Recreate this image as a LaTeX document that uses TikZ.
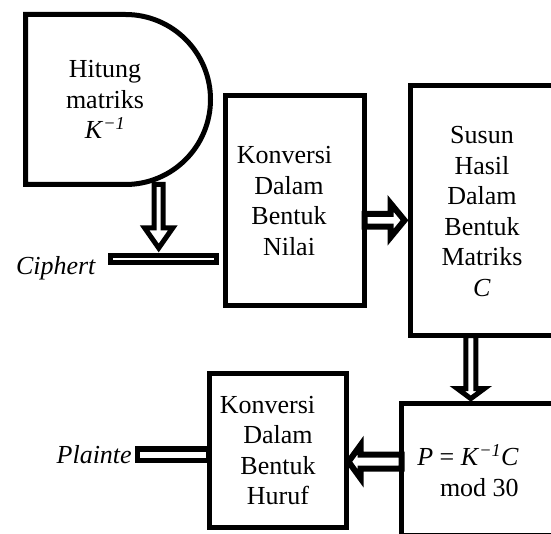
\documentclass[tikz,border=0pt]{standalone}
\usepackage{fontspec}
\setmainfont{Liberation Serif}
\usetikzlibrary{calc}
\tikzset{
  boxline/.style={draw=black, line width=5pt},
  blkarrow/.style={draw=black, fill=white, line width=5pt, line join=miter},
  txt/.style={inner sep=0pt, align=center, font=\fontsize{26}{30.5}\selectfont},
  barbox/.style={draw=black, fill=white, line width=5pt, inner sep=0pt},
}
\newcommand\blkarrowdraw[6][]{%
  \coordinate (ba-h) at ($(#3)!#6!(#2)$);
  \draw[blkarrow,#1] ($(#2)!#4!90:(#3)$) -- ($(ba-h)!#4!90:(#3)$) -- ($(ba-h)!#5!90:(#3)$) -- (#3)
    -- ($(ba-h)!#5!-90:(#3)$) -- ($(ba-h)!#4!-90:(#3)$) -- ($(#2)!#4!-90:(#3)$) -- cycle;}
\begin{document}
\begin{tikzpicture}[x=1pt,y=1pt,yscale=-1]
\useasboundingbox (0,0) rectangle (551,534);
\clip (0,0) rectangle (551,534);
\fill[white] (0,0) rectangle (551,534);

% arrow anchor points
\coordinate (a1s) at (158.7,184.5);
\coordinate (a1t) at (158.7,248);
\coordinate (a2s) at (364.5,220.3);
\coordinate (a2t) at (404.5,220.3);
\coordinate (a3s) at (470.8,335.5);
\coordinate (a3t) at (470.8,398.6);
\coordinate (a4s) at (401.7,461.7);
\coordinate (a4t) at (348.5,461.7);

% block arrows (drawn first, boxes over them)
\blkarrowdraw{a1s}{a1t}{4.5pt}{14pt}{20pt}
\blkarrowdraw[line width=6pt]{a2s}{a2t}{6.3pt}{17pt}{14pt}
\blkarrowdraw{a3s}{a3t}{5pt}{13.5pt}{10pt}
\blkarrowdraw[line width=6pt]{a4s}{a4t}{7pt}{16.5pt}{12pt}

% Hitung matriks (delay shape)
\draw[boxline] (25.5,14.5) -- (125.5,14.5) arc[start angle=-90, end angle=90, radius=85] -- (25.5,184.5) -- cycle;
\node[txt] (hit) at (105,99.5) {Hitung\\matriks\\\textit{K}\textsuperscript{\textit{−1}}};

% boxes
\node[boxline, minimum width=139pt, minimum height=210pt, inner sep=0pt] (kn) at (295,200.5) {};
\node[txt] (kntxt) at (289,201.2) {Konversi\hspace*{9pt}\\Dalam\\Bentuk\\Nilai};

\node[boxline, minimum width=144pt, minimum height=250pt, inner sep=0pt] (su) at (482,210.5) {};
\node[txt] (sutxt) at (482,211.5) {Susun\\Hasil\\Dalam\\Bentuk\\Matriks\\\textit{C}};

\node[boxline, minimum width=137.7pt, minimum height=154pt, inner sep=0pt] (kh) at (277.85,450) {};
\node[txt] (khtxt) at (278,450.3) {Konversi\hspace*{21pt}\\Dalam\\Bentuk\\Huruf};

\node[boxline, minimum width=154.3pt, minimum height=132pt, inner sep=0pt] (pb) at (478.85,469) {};
\node[txt, align=right] (pbtxt) at (468,470.5) {\textit{P} = \textit{K}\textsuperscript{\textit{−1}}\textit{C}\\mod 30};

% input / output bars
\node[barbox, minimum width=105.5pt, minimum height=7.3pt] (cbar) at (163.25,258.85) {};
\node[barbox, line width=5.5pt, minimum width=71.5pt, minimum height=11.7pt] (pbar) at (173.25,454.65) {};
\node[txt, anchor=base] (ctxt) at (56,275) {\textit{Ciphert}};
\node[txt, anchor=base] (ptxt) at (94.2,463.3) {\textit{Plainte}};
\end{tikzpicture}
\end{document}
